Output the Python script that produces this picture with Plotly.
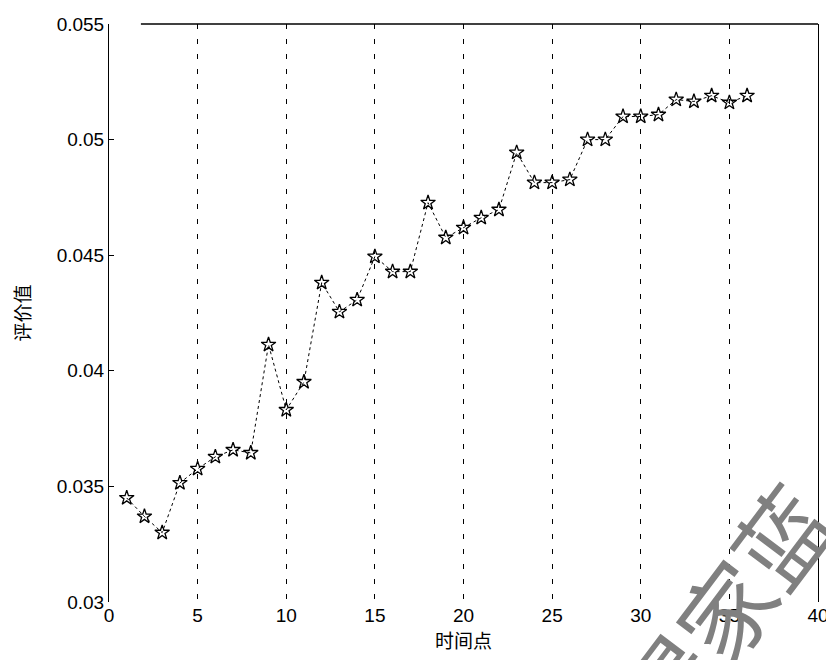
import plotly.graph_objects as go

time_points = list(range(1, 37))
values = [0.0345, 0.0337, 0.0330, 0.03515, 0.03576, 0.03628, 0.03658, 0.03645,
          0.04113, 0.03831, 0.03952, 0.04381, 0.04255, 0.04307, 0.04494, 0.04429,
          0.04429, 0.04727, 0.04576, 0.04619, 0.04662, 0.04697, 0.04944, 0.04814,
          0.04814, 0.04827, 0.0500, 0.0500, 0.0510, 0.0510, 0.05108, 0.05173,
          0.05165, 0.0519, 0.0516, 0.0519]
x_ticks = [0, 5, 10, 15, 20, 25, 30, 35, 40]
y_ticks = [0.03, 0.035, 0.04, 0.045, 0.05, 0.055]
y_tick_labels = ["0.03", "0.035", "0.04", "0.045", "0.05", "0.055"]

fig = go.Figure()
fig.add_trace(go.Scatter(
    x=time_points, y=values, mode="lines+markers",
    line=dict(color="black", width=1, dash="dot"),
    marker=dict(symbol="star-open", size=11, color="black", line=dict(width=1.3, color="black")),
    showlegend=False,
))

tick_font = dict(family="Liberation Sans, Arial, sans-serif", size=19, color="black")
cjk_font = dict(family="Noto Sans CJK SC", size=19, color="black")
fig.update_layout(
    width=826, height=652,
    margin=dict(l=101, r=16, t=16, b=58, autoexpand=False),
    paper_bgcolor="white", plot_bgcolor="white",
    xaxis=dict(
        range=[0, 40], tickvals=x_ticks, ticktext=[str(v) for v in x_ticks],
        showline=False, zeroline=False, automargin=False,
        showgrid=True, gridcolor="black", gridwidth=1, griddash="5px,10px",
        ticks="", tickfont=tick_font,
        title=dict(text="时间点", font=cjk_font, standoff=9),
    ),
    yaxis=dict(
        range=[0.03, 0.055], tickvals=y_ticks, ticktext=y_tick_labels,
        showline=True, linecolor="black", linewidth=1, mirror=True,
        zeroline=False, showgrid=False, automargin=False,
        ticks="inside", ticklen=5, tickcolor="black", tickfont=tick_font,
        title=dict(text="评价值", font=cjk_font, standoff=22),
    ),
)
fig.add_shape(type="line", xref="paper", yref="paper", x0=0.045, x1=1, y0=1, y1=1,
              line=dict(color="black", width=1.5))
fig.add_annotation(
    text="得家蓝", xref="paper", yref="paper", x=0.866, y=-0.012,
    xanchor="center", yanchor="middle",
    showarrow=False, textangle=-53,
    font=dict(family="Noto Sans CJK SC", size=94, color="#808080"),
)
fig.write_html("out.html")
